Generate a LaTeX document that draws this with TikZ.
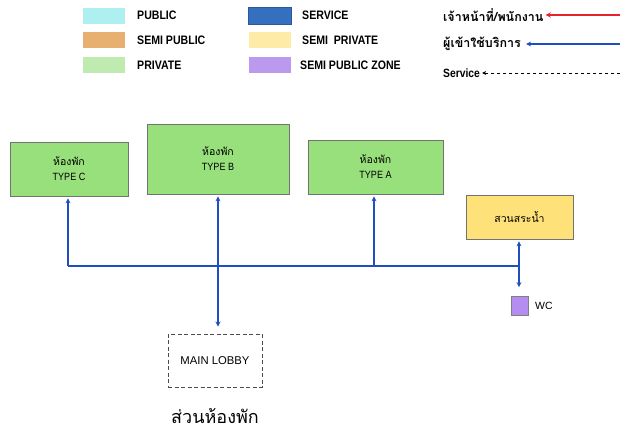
\documentclass[tikz,border=0pt]{standalone}
\usepackage{fontspec}
\setmainfont{Liberation Sans}
\newfontfamily\narrowf[FakeStretch=0.86]{Liberation Sans}
\newfontfamily\thaif[Script=Thai]{Loma}
\usetikzlibrary{arrows.meta}
\definecolor{cpublic}{HTML}{AEEFEF}
\definecolor{csemipub}{HTML}{E8B070}
\definecolor{cprivate}{HTML}{BFEBB0}
\definecolor{cservice}{HTML}{3570C0}
\definecolor{csemipriv}{HTML}{FFEBA8}
\definecolor{czone}{HTML}{BB99EE}
\definecolor{room}{HTML}{98E07B}
\definecolor{pool}{HTML}{FFE17A}
\definecolor{wcfill}{HTML}{B58CF0}
\definecolor{flow}{HTML}{1F4FBF}
\definecolor{staff}{HTML}{E8222A}
\begin{document}
\begin{tikzpicture}[x=1pt,y=-1pt,
  swatch/.style={draw=white,line width=0.6pt,minimum width=43pt,minimum height=17pt,inner sep=0pt},
  legtext/.style={anchor=west,inner sep=0pt,font=\narrowf\bfseries\fontsize{12.3}{14}\selectfont},
  thaileg/.style={anchor=west,inner sep=0pt,font=\thaif\bfseries\fontsize{12.5}{14}\selectfont},
  roombox/.style={draw=black!55,line width=0.7pt,fill=room,align=center,inner sep=0pt,
    font=\narrowf\fontsize{10.5}{15}\selectfont},
  arr/.style={draw=flow,line width=1.3pt,-{Stealth[length=5pt,width=5pt]}},
  ln/.style={draw=flow,line width=1.3pt}]
\useasboundingbox (0,0) rectangle (620,432);
% legend colours
\node[swatch,fill=cpublic]  (s1) at (103.5,15.5) {};
\node[swatch,fill=csemipub] (s2) at (103.5,40) {};
\node[swatch,fill=cprivate] (s3) at (103.5,65) {};
\node[swatch,fill=cservice,draw=cservice!80!black] (s4) at (269.5,15.5) {};
\node[swatch,fill=csemipriv](s5) at (269.5,40) {};
\node[swatch,fill=czone]    (s6) at (269.5,65) {};
\node[legtext] (t1) at (137,15) {PUBLIC};
\node[legtext] (t2) at (137,40) {SEMI PUBLIC};
\node[legtext] (t3) at (137,65) {PRIVATE};
\node[legtext] (t4) at (302,15) {SERVICE};
\node[legtext] (t5) at (302,40) {SEMI\ \ PRIVATE};
\node[legtext] (t6) at (300,65) {SEMI PUBLIC ZONE};
% line legend
\node[thaileg] (l1) at (443,15) {เจ้าหน้าที่/พนักงาน};
\node[thaileg] (l2) at (443,44) {ผู้เข้าใช้บริการ};
\node[legtext,font=\narrowf\bfseries\fontsize{12}{13}\selectfont] (l3) at (443,73) {Service};
\coordinate (e1) at (620,15);
\coordinate (e2) at (620,44);
\coordinate (e3) at (620,73);
\draw[draw=staff,line width=1.3pt,-{Stealth[length=5pt,width=5pt]}] (e1) -- ([xshift=2pt]l1.east);
\draw[arr] (e2) -- ([xshift=5pt]l2.east);
\draw[draw=black,line width=0.9pt,dashed,-{Stealth[length=4pt,width=4pt]}] (e3) -- ([xshift=2pt]l3.east);
% rooms
\node[roombox,minimum width=118pt,minimum height=54pt] (tc) at (69,169) {{\thaif ห้องพัก}\\TYPE C};
\node[roombox,minimum width=142pt,minimum height=70pt] (tb) at (218,159) {{\thaif ห้องพัก}\\TYPE B};
\node[roombox,minimum width=135pt,minimum height=54pt] (ta) at (375.5,167) {{\thaif ห้องพัก}\\TYPE A};
\node[draw=black!55,line width=0.7pt,fill=pool,minimum width=107pt,minimum height=44pt,inner sep=0pt,
  font=\thaif\fontsize{10.5}{12}\selectfont] (pl) at (519.5,217) {สวนสระน้ำ};
\node[draw=black!50,line width=0.7pt,fill=wcfill,minimum width=17pt,minimum height=19pt,inner sep=0pt] (wc) at (520,306) {};
\node[anchor=west,inner sep=0pt,font=\fontsize{10.5}{12}\selectfont] (wct) at (535,306) {WC};
\node[draw=black!70,line width=1pt,dash pattern=on 4pt off 2.5pt,minimum width=94pt,minimum height=53pt,
  inner sep=0pt,font=\fontsize{11.3}{13}\selectfont] (lb) at (215,360.5) {MAIN LOBBY};
\node[font=\thaif\fontsize{18}{21}\selectfont,inner sep=0pt] (title) at (215,416) {ส่วนห้องพัก};
% connectors
\coordinate (jc) at (68,266);
\coordinate (ja) at (374,266);
\coordinate (jp) at (519,266);
\draw[ln] (jc) -- (jp);
\draw[arr] (jc) -- ([yshift=-2pt]jc |- tc.south);
\draw[arr] (ja) -- ([yshift=-2pt]ja |- ta.south);
\draw[arr] (jp) -- ([yshift=-2pt]jp |- pl.south);
\draw[arr] (jp) -- ([yshift=9pt]jp |- wc.north);
\draw[ln,{Stealth[length=5pt,width=5pt]}-{Stealth[length=5pt,width=5pt]}] ([yshift=-2pt]tb.south) -- ([yshift=7pt]tb.south |- lb.north);
\end{tikzpicture}
\end{document}
